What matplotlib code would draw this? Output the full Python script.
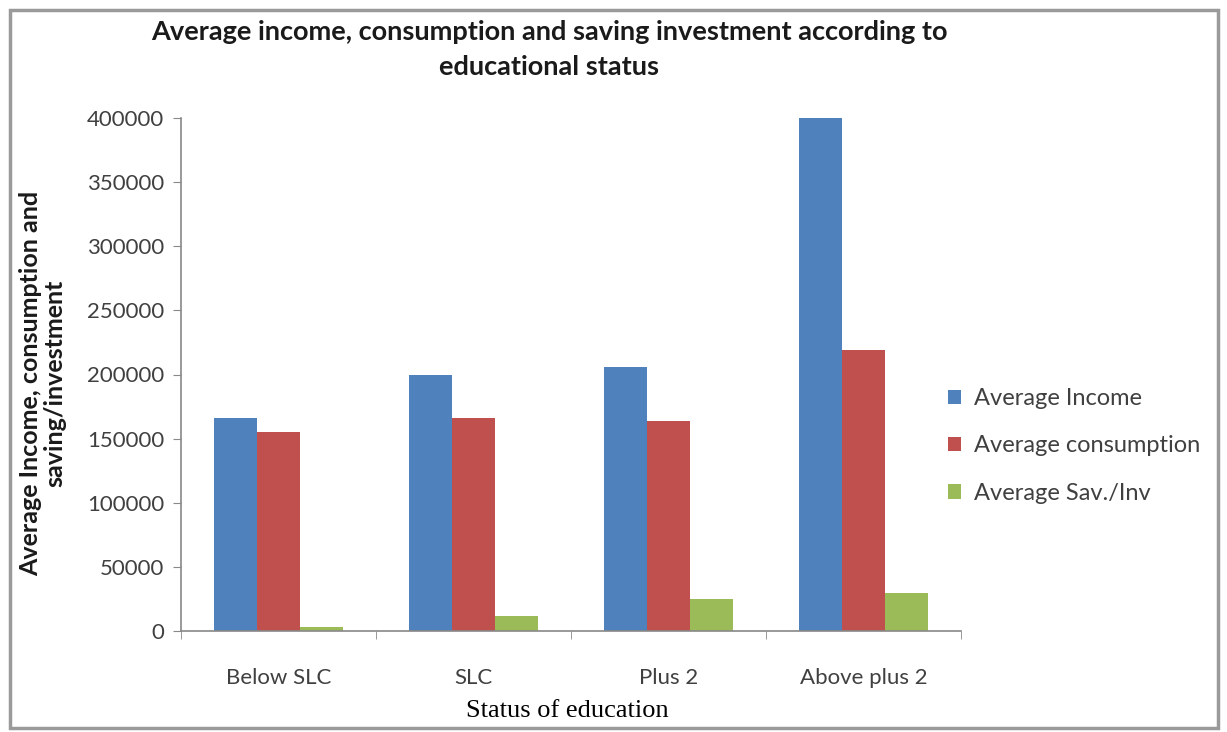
import matplotlib
matplotlib.use("Agg")
import matplotlib.pyplot as plt
from matplotlib.patches import Rectangle
import numpy as np

categories = ["Below SLC", "SLC", "Plus 2", "Above plus 2"]
series_names = ["Average Income", "Average consumption", "Average Sav./Inv"]
income = [166000, 200000, 206000, 400000]
consumption = [155000, 166000, 164000, 219000]
saving = [3000, 12000, 25000, 30000]
colors = ["#4F81BD", "#C0504D", "#9BBB59"]

W, H = 1227, 732
fig = plt.figure(figsize=(W / 100, H / 100), dpi=100)
fig.patch.set_facecolor("white")

# outer frame
fig.add_artist(Rectangle((10 / W, 4 / H), 1208 / W, 718 / H, transform=fig.transFigure,
                         fill=False, edgecolor="#9a9a9a", linewidth=2.5))

left, right, top, bottom = 181, 961, 118, 631
ax = fig.add_axes([left / W, 1 - bottom / H, (right - left) / W, (bottom - top) / H])

x = np.arange(len(categories))
bw = 0.222
for i, (vals, name) in enumerate(zip([income, consumption, saving], series_names)):
    ax.bar(x + (i - 1) * bw, vals, width=bw, color=colors[i], label=name, zorder=2)

ax.set_xlim(-0.5, len(categories) - 0.5)
ax.set_ylim(0, 400000)
ax.set_yticks(np.arange(0, 400001, 50000))
ax.set_yticklabels([str(v) for v in range(0, 400001, 50000)])
ax.set_xticks(x)
ax.set_xticklabels(categories)
ax.set_xticks(np.arange(-0.5, len(categories)), minor=True)
ax.tick_params(axis="x", which="major", length=0, pad=27, labelsize=16, labelcolor="#404040")
ax.tick_params(axis="x", which="minor", length=6, color="#888888", direction="out")
ax.tick_params(axis="y", length=6, color="#888888", direction="out", labelsize=16,
               labelcolor="#404040", pad=6)
for lbl in ax.get_xticklabels() + ax.get_yticklabels():
    lbl.set_family("Lato")

for s in ["top", "right"]:
    ax.spines[s].set_visible(False)
for s in ["left", "bottom"]:
    ax.spines[s].set_color("#888888")
    ax.spines[s].set_linewidth(1.2)

fig.text(549 / W, 1 - 32 / H, "Average income, consumption and saving investment according to",
         ha="center", va="center", fontsize=19.5, fontweight="bold", family="Lato", color="#1a1a1a")
fig.text(549 / W, 1 - 67 / H, "educational status",
         ha="center", va="center", fontsize=19.5, fontweight="bold", family="Lato", color="#1a1a1a")

fig.text(43 / W, 1 - 383 / H, "Average Income, consumption and\nsaving/investment",
         rotation=90, ha="center", va="center", fontsize=18, fontweight="bold",
         family="Lato", color="#1a1a1a", linespacing=1.05, multialignment="center")

fig.text(567 / W, 1 - 711 / H, "Status of education", ha="center", va="center",
         fontsize=19, family="Liberation Serif", color="black")

leg = fig.legend(loc="upper left", bbox_to_anchor=(948 / W, 1 - 388 / H), frameon=False,
                 prop={"family": "Lato", "size": 17}, handlelength=0.55, handleheight=0.55,
                 handletextpad=0.55, labelspacing=1.12, borderaxespad=0, borderpad=0)
for t in leg.get_texts():
    t.set_color("#404040")

fig.savefig("out.png", dpi=100, facecolor="white")
